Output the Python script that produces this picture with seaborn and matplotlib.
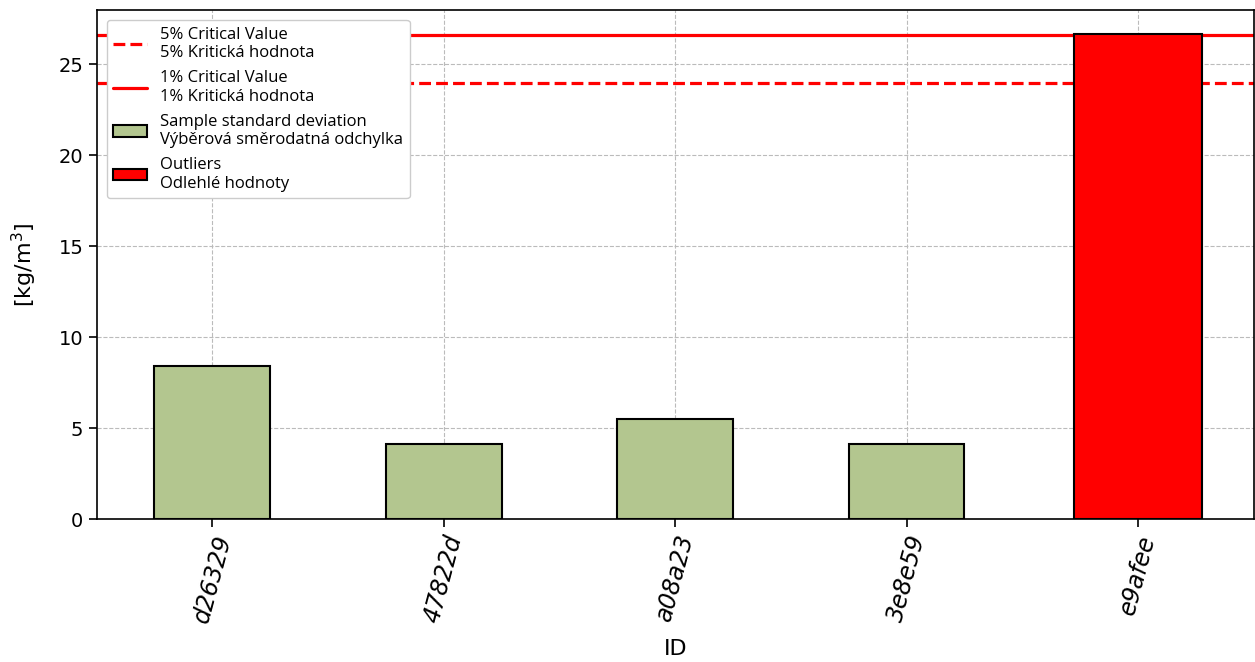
import pandas as pd
import matplotlib.pyplot as plt
import seaborn as sns
from matplotlib.lines import Line2D
from matplotlib.patches import Patch

# values
ids = ["d26329", "47822d", "a08a23", "3e8e59", "e9afee"]
std_values = [8.41, 4.12, 5.49, 4.12, 26.65]
is_outlier = [False, False, False, False, True]
crit_5 = 24.0
crit_1 = 26.6

df = pd.DataFrame({"id": ids, "std": std_values, "outlier": is_outlier})
normal = df[~df["outlier"]]
outliers = df[df["outlier"]]

sns.set_style("white")
plt.rcParams["font.family"] = ["DejaVu Sans"]
plt.rcParams["text.color"] = "black"
plt.rcParams["axes.labelcolor"] = "black"
plt.rcParams["xtick.color"] = "black"
plt.rcParams["ytick.color"] = "black"
plt.rcParams["axes.edgecolor"] = "black"

fig, ax = plt.subplots(figsize=(12.55, 6.62), dpi=100)
fig.subplots_adjust(left=0.077, right=0.999, top=0.985, bottom=0.216)

ax.axhline(crit_5, color="red", linestyle="--", linewidth=2.3, zorder=1)
ax.axhline(crit_1, color="red", linestyle="-", linewidth=2.3, zorder=1)

sns.barplot(data=normal, x="id", y="std", order=ids, color="#b3c68f",
            saturation=1, width=0.5, edgecolor="black", linewidth=1.5, ax=ax, zorder=2)
sns.barplot(data=outliers, x="id", y="std", order=ids, color="red",
            saturation=1, width=0.55, edgecolor="black", linewidth=1.5, ax=ax, zorder=2)

ax.set_xlim(-0.5, 4.5)
ax.set_ylim(0, 28)
ax.set_yticks([0, 5, 10, 15, 20, 25])
ax.grid(True, linestyle="--", color="#bbbbbb", linewidth=0.8)
ax.set_axisbelow(True)
for s in ax.spines.values():
    s.set_linewidth(1.2)
ax.tick_params(axis="both", length=6, width=1.2, direction="out", bottom=True, left=True)
ax.tick_params(axis="y", labelsize=14)
ax.tick_params(axis="x", labelsize=17)
plt.setp(ax.get_xticklabels(), rotation=75, fontstyle="italic")
ax.set_xlabel("ID", fontsize=16, labelpad=10)
ax.set_ylabel("[kg/m$^3$]", fontsize=16, labelpad=14)

handles = [
    Line2D([0], [0], color="red", linestyle="--", linewidth=2.3),
    Line2D([0], [0], color="red", linestyle="-", linewidth=2.3),
    Patch(facecolor="#b3c68f", edgecolor="black", linewidth=1.5),
    Patch(facecolor="red", edgecolor="black", linewidth=1.5),
]
labels = [
    "5% Critical Value\n5% Kritická hodnota",
    "1% Critical Value\n1% Kritická hodnota",
    "Sample standard deviation\nVýběrová směrodatná odchylka",
    "Outliers\nOdlehlé hodnoty",
]
ax.legend(handles, labels, loc="upper left", prop={"family": "Open Sans", "size": 12},
          frameon=True, edgecolor="#cccccc", framealpha=1, borderaxespad=0.6,
          labelspacing=0.55)

plt.savefig("out.png", dpi=100)
